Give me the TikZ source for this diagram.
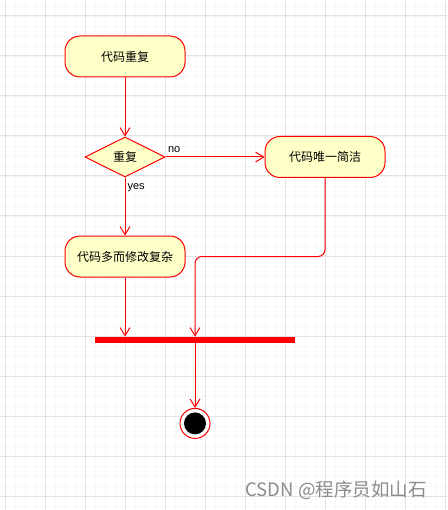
\documentclass[tikz,border=0pt]{standalone}
\usepackage{fontspec}
\setmainfont{Liberation Sans}
\newfontfamily\cjk{Noto Sans CJK SC}
\usetikzlibrary{arrows.meta,shapes.geometric,positioning}
\definecolor{umlred}{RGB}{255,0,0}
\definecolor{umlfill}{RGB}{255,255,200}
\definecolor{gridmajor}{RGB}{226,226,226}
\definecolor{gridminor}{RGB}{247,247,247}
\definecolor{markgray}{RGB}{140,140,140}
\tikzstyle{activity} = [rectangle, rounded corners=15pt, minimum width=120pt, minimum height=41pt, text centered, draw=umlred, fill=umlfill, line width=1pt, font=\cjk\fontsize{12}{14}\selectfont]
\tikzstyle{decision} = [diamond, aspect=2, minimum width=80pt, minimum height=40pt, inner sep=0pt, draw=umlred, fill=umlfill, line width=1pt, font=\cjk\fontsize{12}{14}\selectfont]
\tikzstyle{syncbar} = [rectangle, minimum width=200pt, minimum height=6pt, inner sep=0pt, fill=umlred]
\tikzstyle{arrow} = [line width=1pt, -{Straight Barb[length=8pt,width=10pt]}, color=umlred]
\tikzstyle{guard} = [font=\fontsize{11}{13}\selectfont, inner sep=2pt, text=black]

\begin{document}
\begin{tikzpicture}[x=1pt, y=-1pt]
\useasboundingbox[fill=white] (0,0) rectangle (447,510);
% Background grid
\foreach \x in {5,15,...,445} \draw[gridminor, line width=0.8pt] (\x,0) -- (\x,510);
\foreach \y in {6,16,...,506} \draw[gridminor, line width=0.8pt] (0,\y) -- (447,\y);
\foreach \x in {5,45,...,445} \draw[gridmajor, line width=1pt] (\x,0) -- (\x,510);
\foreach \y in {16,56,...,496} \draw[gridmajor, line width=1pt] (0,\y) -- (447,\y);

% Activities
\node (dup) [activity] at (125,56.5) {代码重复};
\node (isdup) [decision, below=59pt of dup] {重复};
\node (unique) [activity, right=99pt of isdup] {代码唯一简洁};
\node (messy) [activity, below=58pt of isdup] {代码多而修改复杂};
\node (join) [syncbar, below=59pt of messy, xshift=70pt] {};
\node (final) [circle, draw=umlred, fill=white, line width=1pt, minimum size=30pt, inner sep=0pt, below=65pt of join] {};
\fill[black] (final) circle (11pt);

% Flows
\draw[arrow] (dup) -- (isdup);
\draw[arrow] (isdup) -- node[guard, pos=0, above right, yshift=2pt] {no} (unique);
\draw[arrow] (isdup) -- node[guard, pos=0, below right, yshift=-4pt] {yes} (messy);
\draw[arrow] (messy) -- (messy |- join.north);
\draw[arrow, rounded corners=7pt] (unique.south) |- (join.north |- messy.east) -- (join.north);
\draw[arrow] (join) -- (final);

% Watermark
\node (mark) [text=markgray, font=\cjk\fontsize{18.5}{22}\selectfont] at (336,490) {CSDN @程序员如山石};
\end{tikzpicture}
\end{document}
